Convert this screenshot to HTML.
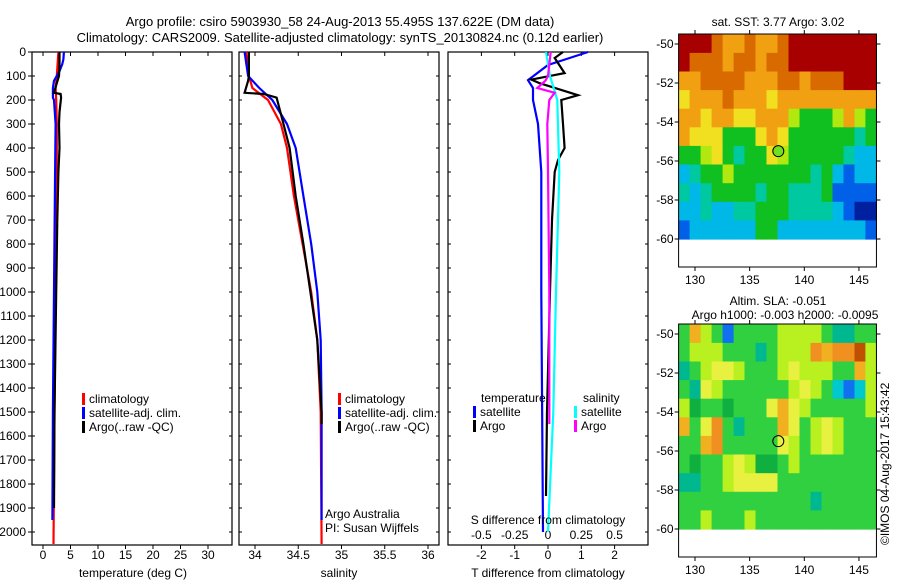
<!DOCTYPE html>
<html><head><meta charset="utf-8"><style>
body{margin:0;background:#fff;}
svg{display:block;font-family:"Liberation Sans",sans-serif;}
text{font-size:12px;fill:#000;}
</style></head><body>
<svg id="fig" width="900" height="580" viewBox="0 0 900 580" xmlns="http://www.w3.org/2000/svg">
<text x="340" y="26" text-anchor="middle" style="font-size:13px">Argo profile: csiro 5903930_58 24-Aug-2013 55.495S 137.622E (DM data)</text>
<text x="340" y="42" text-anchor="middle" style="font-size:13px">Climatology: CARS2009. Satellite-adjusted climatology: synTS_20130824.nc (0.12d earlier)</text>
<g id="plots"></g>
<text transform="translate(889,545) rotate(-90)" style="font-size:12px">©IMOS 04-Aug-2017 15:43:42</text>
</svg>
<script>
// ---- depth ----
const depthTicks=[0,100,200,300,400,500,600,700,800,900,1000,1100,1200,1300,1400,1500,1600,1700,1800,1900,2000];
// ---- temperature panel ----
const tTicks=[0,5,10,15,20,25,30];
const tClimD=[0,100,150,200,300,500,1000,1500,2050];
const tClimV=[2.8,2.5,2.3,2.4,2.5,2.5,2.3,2.1,1.9];
const tSatD=[0,30,50,80,120,150,190,200,300,500,1000,1500,1950];
const tSatV=[3.8,3.7,3.5,3.0,2.0,1.8,1.8,2.0,2.3,2.2,2.0,1.8,1.7];
const tArgoD=[0,50,100,130,170,175,190,250,300,400,500,700,1000,1500,1900];
const tArgoV=[3.0,3.0,2.9,2.5,2.0,3.2,3.3,3.0,2.9,3.0,2.8,2.6,2.4,2.1,2.0];
// ---- salinity panel ----
const sTicks=[34,34.5,35,35.5,36];
const sTickLabels=["34","34.5","35","35.5","36"];
const sClimD=[0,100,150,200,300,400,600,800,1000,1200,1500,2050];
const sClimV=[33.9,33.93,33.97,34.15,34.3,34.37,34.45,34.55,34.65,34.72,34.76,34.77];
const sSatD=[0,100,150,200,300,400,600,800,1000,1200,1500,1950];
const sSatV=[33.88,33.92,34.05,34.2,34.37,34.47,34.56,34.65,34.72,34.76,34.77,34.77];
const sArgoD=[0,100,120,170,175,190,300,400,600,800,1000,1200,1500,1550];
const sArgoV=[33.93,33.93,33.92,33.88,34.1,34.25,34.33,34.4,34.47,34.56,34.64,34.72,34.77,34.77];
// ---- difference panel ----
const dTTicks=[-2,-1,0,1,2];
const dSTicks=[-0.5,-0.25,0,0.25,0.5];
const dTSatD=[0,25,54,117,150,200,300,500,1000,2000];
const dTSatV=[1.2,0.65,0,-0.6,-0.45,-0.45,-0.3,-0.2,-0.2,-0.15];
const dTArgoD=[0,25,88,115,130,180,200,300,400,450,500,700,1000,1500,1850];
const dTArgoV=[0.45,0.2,0.5,-0.5,-0.25,0.9,0.4,0.45,0.5,0.3,0.2,0.12,0.06,-0.03,-0.06];
const dSArgoD=[0,100,120,150,170,200,300,500,1000,1550];
const dSArgoV=[0.02,0,-0.02,-0.08,0.05,0.01,-0.005,0,0.01,0.01];
const dSSatD=[0,100,200,500,1000,1500,2000];
const dSSatV=[-0.015,0.015,0.07,0.085,0.06,0.04,0.0];
// ---- maps ----
const mapLonTicks=[130,135,140,145];
const mapLatTicks=[-50,-52,-54,-56,-58,-60];
const sstRows=[
"RRROooOooORRRRRRRR","ROOOoOOoOORRRRRRRR","ooOOOOoooOOoOOORRR","YoooOoooYooooooooo",
"ooYooYYoooyGGGyoyG","oYYYGGGYoYGGGGGGTG","GGyYGTGGYyGGGGGTCC","CTGGyGGGGGGGTGCBCC",
"TCTGGGGTGGTTTGBBBB","CCTCCTTGGGTTTTCBDD","BCCCCCCGGCCCCCCCCB"];
const slaRows=[
"GoyGBGGGGyyyyGTTGG","GyyyGGGTGyyyOoOORy","TGyYYyGGGyYyyyGGoy","GTYyGGGGGGyYyGCBCy",
"ygGGgGGGYoYyGGGGGy","oGYOGTGGGoYGyYyGGG","GGoOGGGGGYyGyYyGGG","GgGGyYyggGyGGGGGGG",
"TTGGyYYYYGGGGGGGGG","GGGGGGGGGGGGTGGGGG","GGyGGGyGGGGGGGGGGG"];
const argoLon=137.622, argoLat=-55.495;

const NS="http://www.w3.org/2000/svg";
const root=document.getElementById('plots');
function el(tag,attrs,parent){const e=document.createElementNS(NS,tag);for(const k in attrs)e.setAttribute(k,attrs[k]);(parent||root).appendChild(e);return e;}
const Y0=52, PX=0.24;
const yD=d=>Y0+d*PX;
const TOP=52,BOT=545;

function frame(x0,x1,name){
  const r=el('rect',{x:x0,y:TOP,width:x1-x0,height:BOT-TOP,fill:'none',stroke:'#000','stroke-width':1.2});
  
  
}
function line(d,v,fx,color,name,w){
  const pts=d.map((dd,i)=>fx(v[i]).toFixed(1)+','+yD(dd).toFixed(1)).join(' ');
  const p=el('polyline',{points:pts,fill:'none',stroke:color,'stroke-width':w||2.2,'stroke-linejoin':'miter'});
  
  
}
function txt(x,y,s,anchor,name,size){
  const t=el('text',{x:x,y:y,'text-anchor':anchor||'start'});
  if(size)t.style.fontSize=size+'px';
  t.textContent=s;
  
  
  return t;
}
function xticks(x0,x1,vals,fx,labels,yl,name){
  vals.forEach((v,i)=>{const x=fx(v);
    el('line',{x1:x,x2:x,y1:TOP,y2:TOP+4,stroke:'#000'});
    el('line',{x1:x,x2:x,y1:BOT,y2:BOT+4,stroke:'#000'});
    if(labels)txt(x,yl,labels[i],'middle',name);});
}
function depthSideTicks(x0,x1){
  depthTicks.forEach(d=>{const y=yD(d);
    el('line',{x1:x0,x2:x0+3,y1:y,y2:y,stroke:'#000'});
    el('line',{x1:x1-3,x2:x1,y1:y,y2:y,stroke:'#000'});});
}
function legendEntry(x,y,color,label,name){
  const b=el('rect',{x:x,y:y-10,width:3,height:12,fill:color});
  
  
  txt(x+7,y,label,'start',name);
}
// depth labels
depthTicks.forEach(d=>{const y=yD(d);
  el('line',{x1:28,x2:32,y1:y,y2:y,stroke:'#000'});
  txt(26,y+4,String(d),'end','depth-tick-label');});

// Panel 1
const fT=v=>43+v*5.5;
frame(32,232,'temperature-panel');
depthSideTicks(32,232);
xticks(32,232,tTicks,fT,tTicks.map(String),559,'temperature-tick-label');
line(tClimD,tClimV,fT,'#f00','temp-climatology-line');
line(tSatD,tSatV,fT,'#00f','temp-satellite-line');
line(tArgoD,tArgoV,fT,'#000','temp-argo-line');
txt(133,577,'temperature (deg C)','middle','temperature-axis-title');
legendEntry(82,403,'#f00','climatology','legend-climatology');
legendEntry(82,417,'#00f','satellite-adj. clim.','legend-satellite');
legendEntry(82,431,'#000','Argo(..raw -QC)','legend-argo');

// Panel 2
const fS=v=>255+(v-34)*86.5;
frame(239,439,'salinity-panel');
depthSideTicks(239,439);
xticks(239,439,sTicks,fS,sTickLabels,559,'salinity-tick-label');
line(sClimD,sClimV,fS,'#f00','sal-climatology-line');
line(sSatD,sSatV,fS,'#00f','sal-satellite-line');
line(sArgoD,sArgoV,fS,'#000','sal-argo-line');
txt(339,577,'salinity','middle','salinity-axis-title');
legendEntry(338,403,'#f00','climatology','legend-climatology-2');
legendEntry(338,417,'#00f','satellite-adj. clim.','legend-satellite-2');
legendEntry(338,431,'#000','Argo(..raw -QC)','legend-argo-2');
txt(325,518,'Argo Australia','start','argo-australia-credit');
txt(325,532,'PI: Susan Wijffels','start','pi-credit');

// Panel 3
const fDT=v=>548+v*33.3;
const fDS=v=>548+v*133.2;
frame(448,648,'difference-panel');
depthSideTicks(448,648);
xticks(448,648,dTTicks,fDT,dTTicks.map(String),559,'t-diff-tick-label');
dSTicks.forEach((v,i)=>{txt(fDS(v),539,['-0.5','-0.25','0','0.25','0.5'][i],'middle','s-diff-tick-label');});
line(dTSatD,dTSatV,fDT,'#00f','tdiff-satellite-line');
line(dTArgoD,dTArgoV,fDT,'#000','tdiff-argo-line');
line(dSSatD,dSSatV,fDS,'#0ff','sdiff-satellite-line');
line(dSArgoD,dSArgoV,fDS,'#f0f','sdiff-argo-line');
txt(548,524,'S difference from climatology','middle','s-diff-axis-title');
txt(548,577,'T difference from climatology','middle','t-diff-axis-title');
txt(481,402,'temperature','start','legend-temperature-header');
legendEntry(473,416,'#00f','satellite','legend-tdiff-satellite');
legendEntry(473,430,'#000','Argo','legend-tdiff-argo');
txt(583,402,'salinity','start','legend-salinity-header');
legendEntry(574,416,'#0ff','satellite','legend-sdiff-satellite');
legendEntry(574,430,'#f0f','Argo','legend-sdiff-argo');

// Maps
const colors={R:'#a80000',O:'#d86a00',o:'#f0a010',Y:'#f0e020',y:'#b0e810',G:'#10c020',g:'#10b050',T:'#00c8a0',C:'#00b8e8',B:'#0060e8',D:'#0020a0'};
const slaColors={R:'#c05000',O:'#f09020',o:'#f0b020',Y:'#e8f040',y:'#b8f020',G:'#30d040',g:'#10b040',T:'#00b890',C:'#00c8d0',B:'#1070f0',D:'#0030b0'};
function drawMap(top,rows,pal,name,title1,title2){
  const fx=lon=>695+(lon-130)*10.93;
  const latTop=-49.5, latBot=-60;
  const fy=lat=>top+10+(-50-lat)*19.5;
  const x0=fx(128.5), x1=fx(146.6), yb=top+233;
  const g=el('g',{});
  
  
  const nr=rows.length, nc=rows[0].length;
  const cw=(x1-x0)/nc, rh=(fy(latBot)-fy(latTop))/nr;
  rows.forEach((r,i)=>{for(let j=0;j<nc;j++){
    el('rect',{x:(x0+j*cw).toFixed(1),y:(fy(latTop)+i*rh).toFixed(1),width:(cw+0.6).toFixed(1),height:(rh+0.6).toFixed(1),fill:pal[r[j]]},g);}});
  el('rect',{x:x0,y:top,width:x1-x0,height:yb-top,fill:'none',stroke:'#000','stroke-width':1},g);
  mapLonTicks.forEach(l=>{const x=fx(l);
    el('line',{x1:x,x2:x,y1:top-4,y2:top,stroke:'#000'},g);
    el('line',{x1:x,x2:x,y1:yb,y2:yb+4,stroke:'#000'},g);
    txt(x,yb+17,String(l),'middle',name+'-lon-label');});
  mapLatTicks.forEach(l=>{const y=fy(l);
    el('line',{x1:x0-4,x2:x0,y1:y,y2:y,stroke:'#000'},g);
    el('line',{x1:x1,x2:x1+4,y1:y,y2:y,stroke:'#000'},g);
    txt(x0-5,y+4,String(l),'end',name+'-lat-label');});
  const c=el('circle',{cx:fx(argoLon),cy:fy(argoLat),r:5.5,fill:name==='sst-map'?'#70e020':'none',stroke:'#000','stroke-width':1});
  
  
  if(title2){txt(778,top-19,title1,'middle',name+'-title');txt(785,top-5,title2,'middle',name+'-subtitle');}
  else txt(778,top-8,title1,'middle',name+'-title');
}
drawMap(34,sstRows,colors,'sst-map','sat. SST: 3.77 Argo: 3.02');
drawMap(324,slaRows,slaColors,'sla-map','Altim. SLA: -0.051','Argo h1000: -0.003 h2000: -0.0095');
</script>
</body></html>
